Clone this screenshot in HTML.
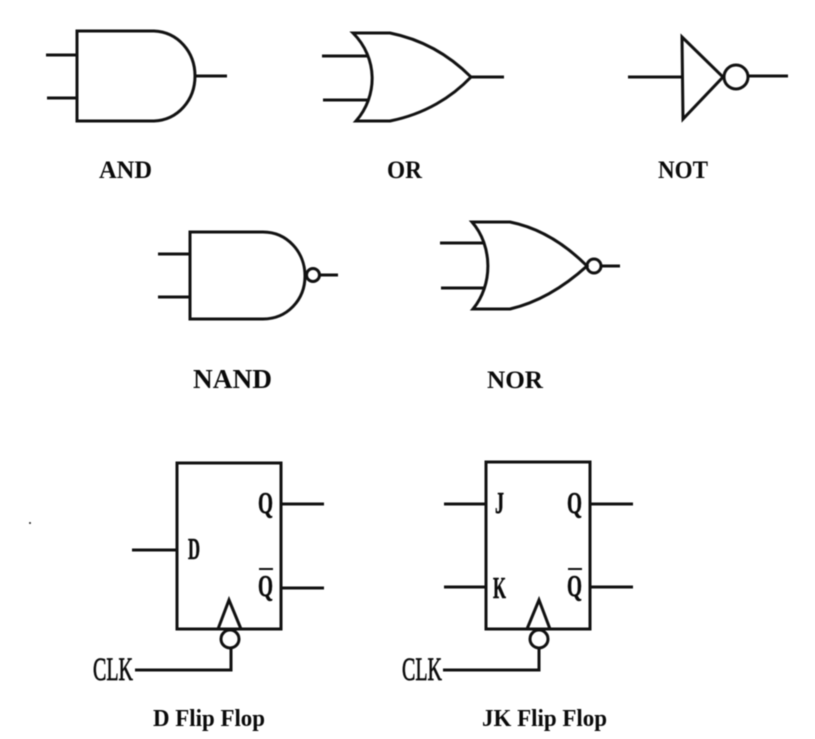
<!DOCTYPE html>
<html><head><meta charset="utf-8"><style>
html,body{margin:0;padding:0;background:#fff}
svg{display:block;filter:blur(0.45px)}
text{font-family:"Liberation Serif",serif;fill:#0a0a0a}
.l{font-size:25px;font-weight:bold}
.f{font-size:24px;font-weight:bold}
.c{font-size:31px;font-weight:bold;stroke:#0a0a0a;stroke-width:.5px}
.m{font-size:33px;stroke:#0a0a0a;stroke-width:.7px}
path,line,rect,circle{fill:none;stroke:#111;stroke-width:3}
</style></head><body>
<svg width="815" height="739" viewBox="0 0 815 739" xmlns="http://www.w3.org/2000/svg">
<rect width="815" height="739" style="fill:#fff;stroke:none"/>
<!-- AND -->
<path d="M77 31H154C178 32 195 52 195 76C195 100 178 120 154 121H77Z"/>
<path d="M46 55H77M47 98H77M196 76H227"/>
<!-- OR -->
<path d="M353 33H390C425 40 452 58 471 77C452 97 425 114 390 121H356C378 96 378 58 353 33Z"/>
<path d="M322 56H367M323 100H368M471 77H504"/>
<!-- NOT -->
<path d="M682 37L723 77L683 119Z"/>
<circle cx="736" cy="77" r="12"/>
<path d="M628 77H683M748 76H788"/>
<!-- NAND -->
<path d="M190 232H263C287 232 305 252 305 276C305 300 287 319 263 319H190Z"/>
<circle cx="313" cy="275" r="6.5"/>
<path d="M158 254H190M158 297H190M320 275H338"/>
<!-- NOR -->
<path d="M472 222H510C540 228 566 245 587 266C566 285 540 302 510 309H473C493 285 493 246 472 222Z"/>
<circle cx="594" cy="266" r="7"/>
<path d="M440 243H484M441 288H485M601 266H620"/>
<!-- D FF -->
<rect x="177" y="463" width="104" height="166"/>
<path d="M132 550H177M281 504H324M281 588H324"/>
<path d="M218 629L229 600L241 629"/>
<circle cx="230" cy="639" r="9"/>
<path d="M231 648V670H135"/>
<!-- JK FF -->
<rect x="486" y="462" width="104" height="167"/>
<path d="M444 504H486M444 587H486M590 504H633M590 587H633"/>
<path d="M527 629L539 600L550 629"/>
<circle cx="539" cy="639" r="9"/>
<path d="M539 648V670H443"/>
<!-- stray dot -->
<circle cx="30" cy="523" r="1" style="fill:#222;stroke:none"/>
<!-- labels -->
<text class="l" x="99" y="178" textLength="53" lengthAdjust="spacingAndGlyphs">AND</text>
<text class="l" x="387" y="178" textLength="35" lengthAdjust="spacingAndGlyphs">OR</text>
<text class="l" x="658" y="178" textLength="50" lengthAdjust="spacingAndGlyphs">NOT</text>
<text class="l" x="193" y="388" textLength="79" lengthAdjust="spacingAndGlyphs" style="font-size:27px">NAND</text>
<text class="l" x="487" y="388" textLength="56" lengthAdjust="spacingAndGlyphs">NOR</text>
<text class="c" x="188" y="559" textLength="12" lengthAdjust="spacingAndGlyphs">D</text>
<text class="c" x="258" y="513" textLength="15" lengthAdjust="spacingAndGlyphs">Q</text>
<text class="c" x="258" y="596" textLength="15" lengthAdjust="spacingAndGlyphs">Q</text>
<path d="M259 569H273" style="stroke-width:2"/>
<text class="c" x="495" y="513" textLength="9" lengthAdjust="spacingAndGlyphs">J</text>
<text class="c" x="493" y="598" textLength="13" lengthAdjust="spacingAndGlyphs">K</text>
<text class="c" x="567" y="513" textLength="15" lengthAdjust="spacingAndGlyphs">Q</text>
<text class="c" x="567" y="596" textLength="15" lengthAdjust="spacingAndGlyphs">Q</text>
<path d="M568 569H582" style="stroke-width:2"/>
<text class="m" x="93" y="680" textLength="40" lengthAdjust="spacingAndGlyphs">CLK</text>
<text class="m" x="402" y="680" textLength="40" lengthAdjust="spacingAndGlyphs">CLK</text>
<text class="f" x="153" y="726" textLength="112" lengthAdjust="spacingAndGlyphs">D Flip Flop</text>
<text class="f" x="482" y="726" textLength="125" lengthAdjust="spacingAndGlyphs">JK Flip Flop</text>
</svg>
</body></html>
